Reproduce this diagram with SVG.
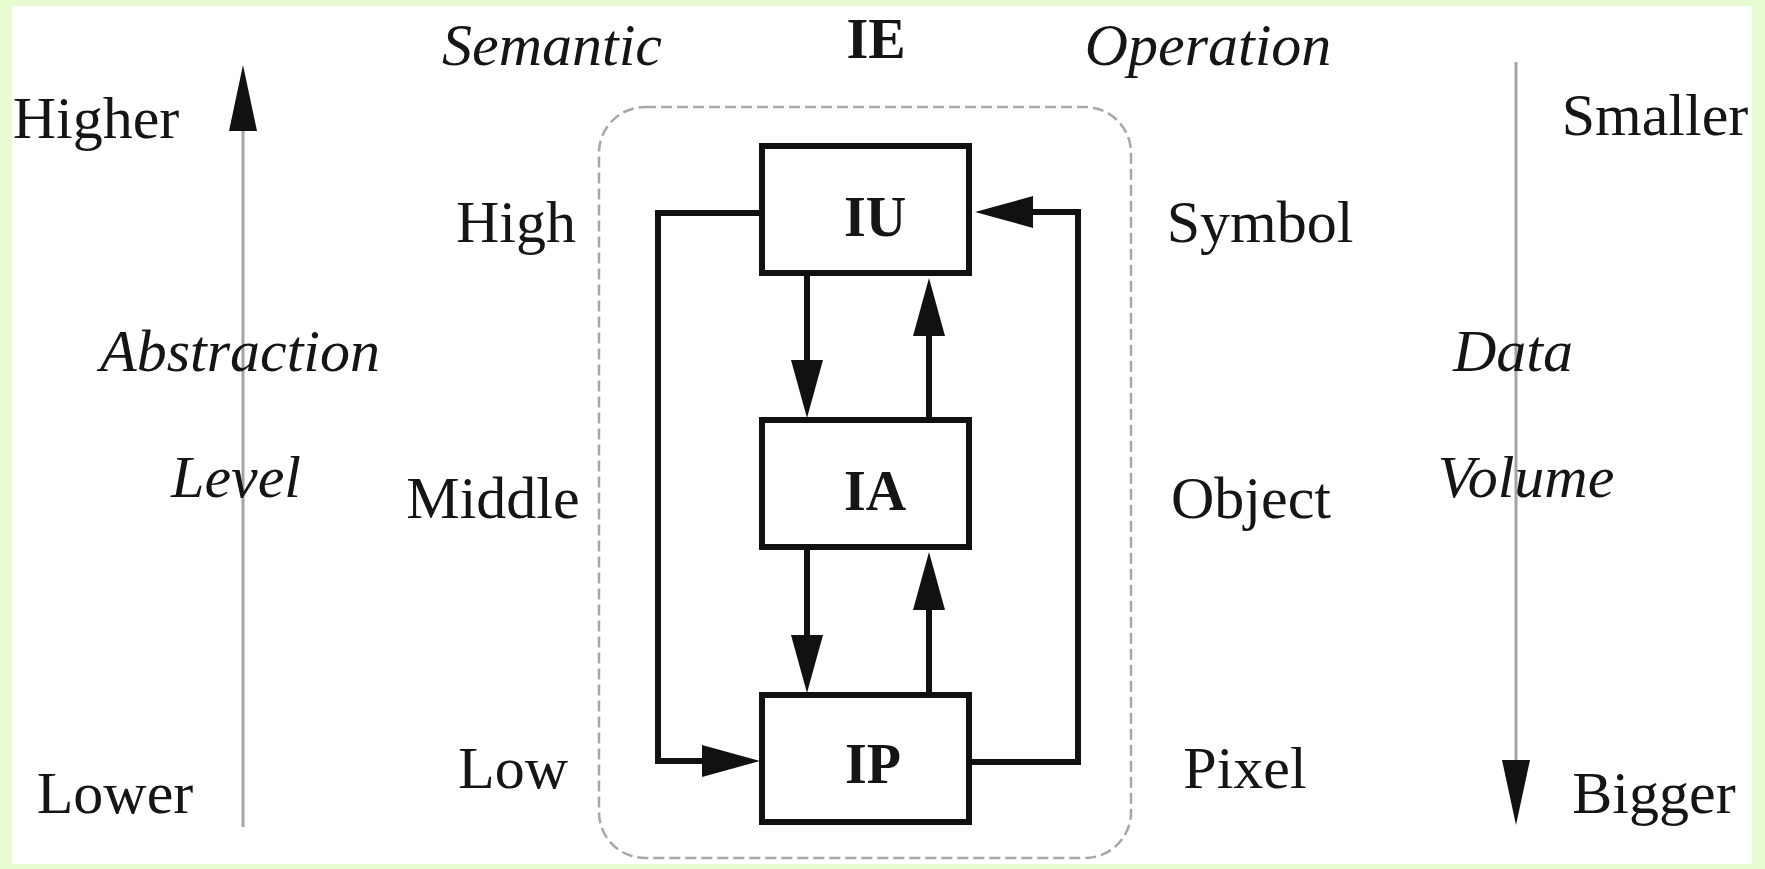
<svg xmlns="http://www.w3.org/2000/svg" width="1765" height="869" viewBox="0 0 1765 869">
<style>
.t{font-family:"Liberation Serif","Times New Roman",serif;font-size:60px;fill:#151515;text-anchor:middle}
.i{font-style:italic}
.b{font-weight:bold;font-size:56px}
.box{fill:#fff;stroke:#111;stroke-width:6}
.con{fill:none;stroke:#111;stroke-width:6;stroke-linejoin:miter}
.axis{stroke:#a8a2a2;stroke-width:3}
</style>
<defs>
<marker id="ah" markerUnits="userSpaceOnUse" markerWidth="60" markerHeight="34" viewBox="0 0 60 34" refX="46" refY="17" orient="auto">
<path d="M0,1 L58,17 L0,33 z" fill="#111"/>
</marker>
</defs>
<rect x="0" y="0" width="1765" height="869" fill="#e6fbd0"/>
<rect x="12" y="6" width="1740" height="858" fill="#fff"/>

<g id="axis-left">
<line class="axis" x1="243" y1="128" x2="243" y2="827"/>
<polygon points="243,65 229,131 257,131" fill="#111"/>
</g>
<g id="axis-right">
<line class="axis" x1="1516" y1="62" x2="1516" y2="762"/>
<polygon points="1516,825 1502,760 1530,760" fill="#111"/>
</g>

<g id="container">
<rect x="599" y="107" width="532" height="751" rx="46" ry="46" fill="none" stroke="#aaa6a6" stroke-width="2.5" stroke-dasharray="11 5"/>
</g>

<g id="connectors">
<path class="con" d="M807,273 V406" marker-end="url(#ah)"/>
<path class="con" d="M929,422 V290" marker-end="url(#ah)"/>
<path class="con" d="M807,547 V681" marker-end="url(#ah)"/>
<path class="con" d="M929,700 V564" marker-end="url(#ah)"/>
<path class="con" d="M762,213 H658 V761 H748" marker-end="url(#ah)"/>
<path class="con" d="M970,762 H1078 V212 H987" marker-end="url(#ah)"/>
</g>

<g id="node-IU">
<rect class="box" x="762" y="146" width="207" height="127"/>
<text class="t b" x="875" y="236">IU</text>
</g>
<g id="node-IA">
<rect class="box" x="762" y="420" width="207" height="127"/>
<text class="t b" x="875" y="510">IA</text>
</g>
<g id="node-IP">
<rect class="box" x="762" y="695" width="207" height="127"/>
<text class="t b" x="873" y="783">IP</text>
</g>

<g id="labels">
<text class="t i" x="552" y="65">Semantic</text>
<text class="t b" x="876" y="58">IE</text>
<text class="t i" x="1208" y="65">Operation</text>
<text class="t" x="96" y="138">Higher</text>
<text class="t" x="1655" y="135">Smaller</text>
<text class="t" x="516" y="242">High</text>
<text class="t" x="1260" y="242">Symbol</text>
<text class="t i" x="240" y="371">Abstraction</text>
<text class="t i" x="1513" y="371">Data</text>
<text class="t i" x="236" y="497">Level</text>
<text class="t" x="493" y="518">Middle</text>
<text class="t" x="1251" y="518">Object</text>
<text class="t i" x="1526" y="497">Volume</text>
<text class="t" x="115" y="813">Lower</text>
<text class="t" x="513" y="788">Low</text>
<text class="t" x="1245" y="788">Pixel</text>
<text class="t" x="1654" y="813">Bigger</text>
</g>
</svg>
